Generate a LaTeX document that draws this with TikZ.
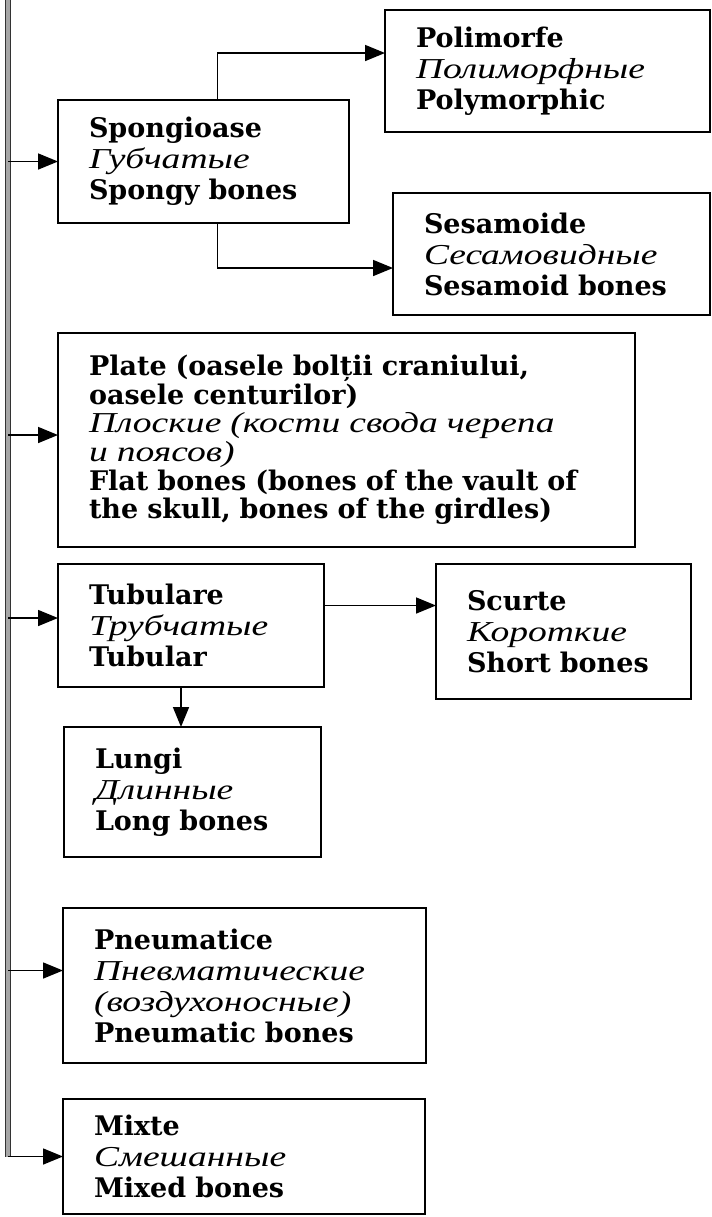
\documentclass[tikz,border=0pt]{standalone}
\usepackage{fontspec}
\setmainfont{DejaVu Serif}
\newfontfamily\rufont{Liberation Serif}[Scale=1.07, FakeStretch=1.3]
\usetikzlibrary{arrows.meta, positioning}
\tikzset{
  bone/.style  = {rectangle, draw, line width=0.9pt, anchor=north west,
                  align=left, inner xsep=15.5pt, inner ysep=0pt, outer sep=0pt,
                  font=\fontsize{13.5}{15.5}\selectfont\bfseries},
  flow/.style  = {-{Triangle[length=10pt, width=8pt]}, line width=0.8pt},
  trunk/.style = {draw=black!80, double=black!35, line width=0.6pt,
                  double distance=1.8pt},
}
\newcommand\ru[1]{{\rufont\mdseries\itshape #1}}

\begin{document}
\begin{tikzpicture}[x=0.5pt, y=-0.5pt]
  \useasboundingbox (0,0) rectangle (712,1217);
  \coordinate (top) at (8,0);

  \node[bone, text width=114.5pt, minimum height=61.5pt] (spong) at (58,100)
    {Spongioase\\\ru{Губчатые}\\Spongy bones};
  \node[bone, right=18pt of spong.north east, anchor=north west, yshift=45pt,
        text width=131.5pt, minimum height=61pt] (polym)
    {Polimorfe\\\ru{Полиморфные}\\Polymorphic};
  \node[bone, below=30.5pt of polym.south west, anchor=north west, xshift=4pt,
        text width=127.5pt, minimum height=61pt] (sesam)
    {Sesamoide\\\ru{Сесамовидные}\\Sesamoid bones};
  \node[bone, below=55pt of spong.south west, anchor=north west,
        text width=257.5pt, minimum height=107pt,
        font=\fontsize{13.5}{14.3}\selectfont\bfseries] (plate)
    {Plate (oasele bolții craniului,\\oasele centurilor)\\
     \ru{Плоские (кости свода черепа}\\\ru{и поясов)}\\
     Flat bones (bones of the vault of\\the skull, bones of the girdles)};
  \node[bone, below=8.5pt of plate.south west, anchor=north west,
        text width=102pt, minimum height=61.5pt] (tubul)
    {Tubulare\\\ru{Трубчатые}\\Tubular};
  \node[bone, right=56pt of tubul.north east, anchor=north west,
        text width=96.5pt, minimum height=67.5pt] (scurt)
    {Scurte\\\ru{Короткие}\\Short bones};
  \node[bone, below=20pt of tubul.south west, anchor=north west, xshift=3pt,
        text width=97.5pt, minimum height=65pt] (lungi)
    {Lungi\\\ru{Длинные}\\Long bones};
  \node[bone, below=25.5pt of lungi.south west, anchor=north west, xshift=-0.5pt,
        text width=150.5pt, minimum height=77.5pt] (pneum)
    {Pneumatice\\\ru{Пневматические}\\\ru{(воздухоносные)}\\Pneumatic bones};
  \node[bone, below=18pt of pneum.south west, anchor=north west,
        text width=150pt, minimum height=57.5pt] (mixte)
    {Mixte\\\ru{Смешанные}\\Mixed bones};

  \draw[trunk] (top) -- (top |- mixte.west);
  \draw[flow] (top |- mixte.west) -- (mixte.west);
  \draw[flow] (top |- spong.west) -- (spong.west);
  \draw[flow] ([yshift=2.5pt]top |- plate.west) -- ([yshift=2.5pt]plate.west);
  \draw[flow] ([yshift=3.75pt]top |- tubul.west) -- ([yshift=3.75pt]tubul.west);
  \draw[flow] ([yshift=7.5pt]top |- pneum.west) -- ([yshift=7.5pt]pneum.west);

  \draw[flow] ([xshift=7pt]spong.north) |- ([yshift=9pt]polym.west);
  \draw[flow] ([xshift=7pt]spong.south) |- ([yshift=-7pt]sesam.west);
  \draw[flow] ([yshift=10pt]tubul.east) -- ([yshift=10pt]tubul.east -| scurt.west);
  \draw[flow] ([xshift=-5pt]tubul.south) -- ([xshift=-5pt]tubul.south |- lungi.north);
\end{tikzpicture}
\end{document}
